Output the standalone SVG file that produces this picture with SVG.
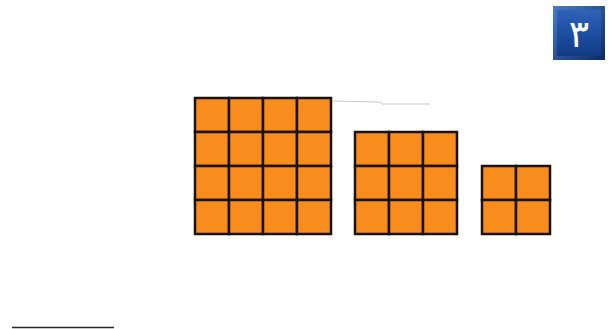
<svg xmlns="http://www.w3.org/2000/svg" width="612" height="329" viewBox="0 0 612 329">
<defs>
<style>
.cell{fill:#f88c1c;stroke:#1a1108;stroke-width:2.5}
.badge-t{font-family:"DejaVu Sans","Noto Sans",sans-serif;font-size:38px;fill:#ffffff;text-anchor:middle}
</style>
<linearGradient id="bg" x1="0" y1="0" x2="0" y2="1">
<stop offset="0" stop-color="#2f63b8"/>
<stop offset="0.5" stop-color="#1d4fa3"/>
<stop offset="1" stop-color="#123a82"/>
</linearGradient>
<linearGradient id="edge" x1="0" y1="0" x2="1" y2="1">
<stop offset="0" stop-color="#4a7cc8"/>
<stop offset="1" stop-color="#0b2a63"/>
</linearGradient>
</defs>
<rect width="612" height="329" fill="#ffffff"/>
<g id="badge">
<rect x="553" y="6" width="52" height="54" fill="url(#edge)"/>
<rect x="557" y="10" width="44" height="46" fill="url(#bg)"/>
<text class="badge-t" x="579" y="47">٣</text>
</g>
<g id="grid4">
<rect class="cell" x="195" y="98" width="34" height="34"/>
<rect class="cell" x="229" y="98" width="34" height="34"/>
<rect class="cell" x="263" y="98" width="34" height="34"/>
<rect class="cell" x="297" y="98" width="34" height="34"/>
<rect class="cell" x="195" y="132" width="34" height="34"/>
<rect class="cell" x="229" y="132" width="34" height="34"/>
<rect class="cell" x="263" y="132" width="34" height="34"/>
<rect class="cell" x="297" y="132" width="34" height="34"/>
<rect class="cell" x="195" y="166" width="34" height="34"/>
<rect class="cell" x="229" y="166" width="34" height="34"/>
<rect class="cell" x="263" y="166" width="34" height="34"/>
<rect class="cell" x="297" y="166" width="34" height="34"/>
<rect class="cell" x="195" y="200" width="34" height="34"/>
<rect class="cell" x="229" y="200" width="34" height="34"/>
<rect class="cell" x="263" y="200" width="34" height="34"/>
<rect class="cell" x="297" y="200" width="34" height="34"/>
</g>
<g id="grid3">
<rect class="cell" x="355" y="132" width="34" height="34"/>
<rect class="cell" x="389" y="132" width="34" height="34"/>
<rect class="cell" x="423" y="132" width="34" height="34"/>
<rect class="cell" x="355" y="166" width="34" height="34"/>
<rect class="cell" x="389" y="166" width="34" height="34"/>
<rect class="cell" x="423" y="166" width="34" height="34"/>
<rect class="cell" x="355" y="200" width="34" height="34"/>
<rect class="cell" x="389" y="200" width="34" height="34"/>
<rect class="cell" x="423" y="200" width="34" height="34"/>
</g>
<g id="grid2">
<rect class="cell" x="482" y="166" width="34" height="34"/>
<rect class="cell" x="516" y="166" width="34" height="34"/>
<rect class="cell" x="482" y="200" width="34" height="34"/>
<rect class="cell" x="516" y="200" width="34" height="34"/>
</g>
<g id="marks">
<polyline points="332,101 380,102 382,104 430,104" fill="none" stroke="#c8c8c8" stroke-width="1"/>
<line x1="12" y1="327.5" x2="114" y2="327.5" stroke="#2a2a2a" stroke-width="1.5"/>
</g>
</svg>
